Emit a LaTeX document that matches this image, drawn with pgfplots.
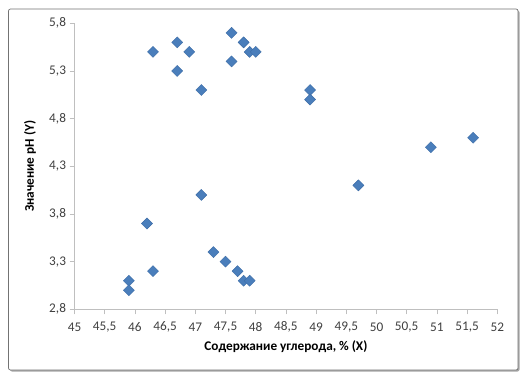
\documentclass[border=0pt]{standalone}
\usepackage{pgfplots}
\pgfplotsset{compat=1.18}
\usepackage{fontspec}
\setmainfont{Carlito}
\definecolor{mk}{HTML}{4A7EBB}
\definecolor{mkd}{HTML}{3C6CA6}
\definecolor{axl}{HTML}{BFBFBF}
\definecolor{txt}{HTML}{404040}
\begin{document}
\begin{tikzpicture}[x=1bp,y=1bp]
\useasboundingbox (0,0) rectangle (530,375);
\fill[black!35,rounded corners=2bp] (10,3.5) rectangle (519.5,364.5);
\filldraw[fill=white,draw=black!55,line width=0.7bp,rounded corners=2bp] (8.5,5) rectangle (518,366);
\begin{axis}[
  at={(74.5bp,65.7bp)}, anchor=south west,
  scale only axis, width=422.8bp, height=286bp,
  xmin=45, xmax=52, ymin=2.8, ymax=5.8,
  axis lines*=left,
  axis line style={draw=axl, line width=0.8bp, -},
  xtick={45,45.5,...,52},
  ytick={2.8,3.3,3.8,4.3,4.8,5.3,5.8},
  tick align=outside,
  major tick length=5bp,
  tick style={draw=axl, line width=0.8bp},
  /pgf/number format/assume math mode=true,
  /pgf/number format/use comma,
  /pgf/number format/fixed,
  /pgf/number format/precision=1,
  yticklabel style={/pgf/number format/fixed zerofill},
  ticklabel style={font=\fontsize{13.3}{15}\selectfont, text=txt},
  xticklabel style={anchor=center, yshift=-13bp},
  xlabel={Содержание углерода, \% (X)},
  ylabel={Значение pH (Y)},
  label style={font=\bfseries\fontsize{13.3}{15}\selectfont, text=black},
  xlabel style={at={(axis description cs:0.5,0)}, anchor=center, yshift=-37.4bp},
  ylabel style={at={(axis description cs:0,0.5)}, anchor=center, yshift=44.5bp},
  clip=false,
]
\addplot[only marks, mark=square*, mark size=3.9bp,
  mark options={rotate=45, fill=mk, draw=mkd, line width=0.4bp}]
coordinates {
(46.3,5.5) (46.7,5.6) (46.9,5.5) (46.7,5.3) (47.1,5.1)
(47.6,5.7) (47.8,5.6) (47.9,5.5) (48.0,5.5) (47.6,5.4)
(48.9,5.1) (48.9,5.0) (49.7,4.1) (50.9,4.5) (51.6,4.6)
(47.1,4.0) (46.2,3.7) (47.3,3.4) (47.5,3.3) (46.3,3.2)
(47.7,3.2) (47.8,3.1) (47.9,3.1) (45.9,3.1) (45.9,3.0)
};
\end{axis}
\end{tikzpicture}
\end{document}
